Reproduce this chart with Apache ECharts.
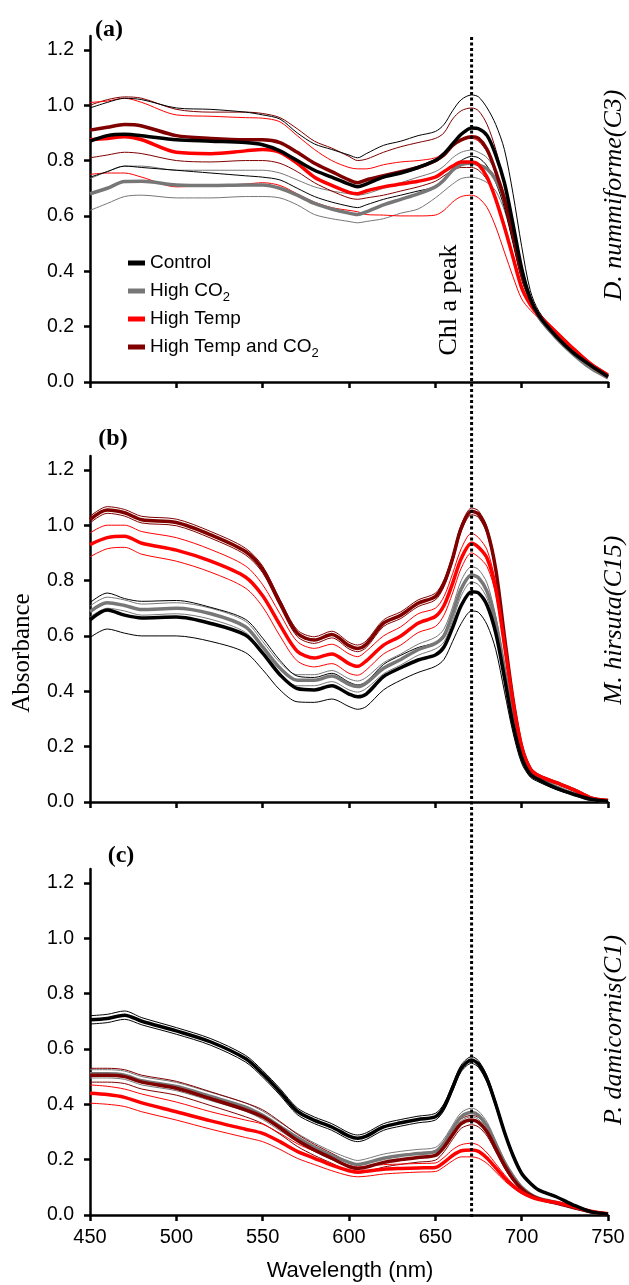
<!DOCTYPE html>
<html><head><meta charset="utf-8">
<script src="https://cdn.jsdelivr.net/npm/echarts@6/dist/echarts.min.js"></script>
<style>html,body{margin:0;padding:0;background:#fff}#c{width:629px;height:1285px}</style>
</head><body><div id="c"></div>
<script>
// ---- data ----
const wavelengths = [450,460,470,480, 500,520,540, 550,560,570,580,590,600, 605,610, 620,630,640,650, 655,660,665, 671,675,680,685,690,695,700,705,710, 720,730,740,750];
const yTicks = [0, 0.2, 0.4, 0.6, 0.8, 1.0, 1.2];
const chlPeak = 671;
const treatments = ['Control', 'High CO2', 'High Temp', 'High Temp and CO2'];
const panelLetters = ['(a)', '(b)', '(c)'];
const speciesNames = ['D. nummiforme(C3)', 'M. hirsuta(C15)', 'P. damicornis(C1)'];

// Panel (a) D. nummiforme : mean (M), upper (H), lower (L)
const aCtrlM = [.87,.89,.895,.89, .875,.87,.865, .857,.835,.80,.765,.74,.715, .705,.715, .74,.755,.775,.80, .825,.86,.895, .918,.915,.89,.82,.72,.57,.41,.30,.24, .165,.105,.06,.02];
const aCtrlH = [.99,1.01,1.025,1.02, .99,.985,.975, .965,.95,.90,.86,.84,.82, .81,.825, .855,.87,.89,.905, .93,.98,1.02, 1.037,1.03,.99,.93,.84,.68,.49,.33,.255, .175,.11,.06,.02];
const aCtrlL = [.74,.76,.78,.775, .765,.755,.745, .74,.73,.70,.67,.65,.635, .63,.64, .66,.675,.69,.705, .73,.77,.80, .815,.81,.78,.72,.63,.50,.37,.29,.23, .16,.10,.055,.02];
const aCo2M = [.68,.70,.724,.725, .712,.71,.712, .712,.70,.675,.645,.625,.61, .605,.615, .64,.66,.68,.705, .73,.765,.785, .79,.785,.77,.73,.66,.54,.40,.30,.235, .16,.10,.05,.015];
const aCo2H = [.735,.76,.78,.78, .765,.765,.765, .765,.755,.73,.705,.69,.68, .675,.68, .70,.72,.74,.76, .78,.81,.83, .838,.83,.81,.76,.68,.55,.41,.305,.24, .16,.10,.05,.015];
const aCo2L = [.62,.645,.67,.675, .665,.665,.67, .67,.665,.64,.605,.59,.58, .575,.58, .59,.61,.625,.665, .69,.715,.735, .74,.735,.72,.69,.62,.51,.38,.29,.225, .155,.095,.05,.015];
const aTempM = [.875,.88,.886,.875, .83,.825,.835, .84,.83,.79,.74,.71,.685, .68,.69, .705,.715,.725,.74, .76,.78,.795, .795,.785,.74,.66,.56,.45,.34,.28,.24, .18,.12,.065,.025];
const aTempH = [1.01,1.015,1.025,1.01, .965,.96,.955, .953,.94,.89,.84,.80,.775, .77,.77, .785,.795,.80,.81, .83,.86,.875, .88,.87,.83,.75,.64,.51,.38,.30,.25, .185,.125,.07,.03];
const aTempL = [.75,.755,.755,.74, .705,.71,.715, .72,.71,.68,.65,.63,.62, .615,.605, .603,.60,.60,.603, .62,.65,.67, .675,.665,.63,.56,.47,.38,.30,.26,.23, .17,.115,.06,.025];
const aBothM = [.91,.92,.93,.925, .89,.88,.875, .875,.865,.83,.79,.76,.73, .72,.73, .745,.76,.775,.80, .82,.855,.875, .886,.88,.84,.76,.66,.53,.39,.30,.24, .17,.11,.06,.02];
const aBothH = [1.0,1.02,1.03,1.025, .985,.975,.975, .97,.955,.915,.87,.845,.815, .80,.805, .83,.85,.865,.88, .90,.95,.98, .99,.98,.93,.84,.72,.57,.41,.31,.245, .175,.115,.06,.02];
const aBothL = [.81,.82,.83,.825, .80,.795,.80, .80,.79,.76,.72,.69,.665, .66,.665, .675,.69,.705,.725, .745,.765,.775, .775,.765,.73,.66,.57,.46,.35,.28,.23, .165,.105,.055,.02];

// Panel (b) M. hirsuta
const bCtrlM = [.658,.694,.675,.665, .668,.645,.603, .538,.46,.41,.405,.42,.39, .38,.39, .453,.485,.513,.531, .56,.63,.71, .76,.755,.71,.61,.45,.28,.16,.10,.08, .05,.028,.01,.003];
const bCtrlH = [.72,.755,.735,.725, .728,.703,.66, .592,.512,.455,.45,.465,.433, .423,.434, .497,.53,.558,.576, .607,.68,.765, .815,.81,.765,.66,.49,.31,.18,.11,.088, .055,.03,.011,.003];
const bCtrlL = [.594,.625,.61,.60, .60,.58,.54, .478,.405,.362,.36,.372,.345, .335,.345, .405,.44,.468,.49, .515,.58,.645, .69,.685,.64,.55,.40,.25,.14,.09,.072, .045,.025,.009,.003];
const bCo2M = [.688,.72,.71,.695, .70,.68,.633, .56,.484,.44,.44,.455,.425, .417,.43, .483,.515,.55,.573, .60,.68,.77, .82,.81,.76,.65,.48,.30,.17,.11,.085, .055,.03,.01,.003];
const bCo2H = [.708,.74,.73,.715, .72,.70,.653, .58,.504,.46,.46,.475,.445, .437,.45, .503,.535,.57,.595, .625,.705,.80, .85,.84,.79,.67,.495,.31,.175,.112,.087, .056,.03,.01,.003];
const bCo2L = [.668,.70,.69,.675, .68,.66,.613, .54,.464,.42,.42,.435,.405, .397,.41, .463,.495,.53,.553, .578,.655,.745, .795,.785,.735,.63,.465,.29,.165,.108,.083, .054,.03,.01,.003];
const bTempM = [.93,.955,.96,.935, .91,.87,.813, .745,.64,.545,.52,.535,.50, .49,.51, .567,.60,.646,.67, .71,.79,.88, .935,.92,.88,.77,.57,.36,.20,.12,.095, .07,.045,.015,.005];
const bTempH = [.972,1.0,1.0,.977, .955,.912,.853, .785,.68,.58,.555,.57,.535, .525,.545, .60,.633,.68,.70, .742,.825,.915, .971,.955,.91,.79,.59,.37,.205,.122,.097, .071,.046,.015,.005];
const bTempL = [.886,.915,.92,.895, .87,.83,.773, .705,.60,.51,.488,.50,.465, .458,.477, .535,.567,.612,.634, .675,.755,.845, .90,.885,.85,.75,.55,.35,.195,.118,.093, .069,.044,.015,.005];
const bBothM = [1.02,1.055,1.045,1.02, 1.01,.965,.905, .84,.72,.61,.585,.605,.565, .555,.57, .646,.675,.718,.742, .79,.88,.99, 1.05,1.04,.98,.84,.60,.37,.20,.12,.095, .07,.045,.015,.005];
const bBothH = [1.032,1.067,1.057,1.032, 1.022,.977,.917, .852,.732,.622,.597,.617,.577, .567,.582, .658,.687,.73,.754, .802,.892,1.002, 1.062,1.052,.992,.852,.61,.375,.203,.122,.096, .071,.046,.015,.005];
const bBothL = [1.008,1.043,1.033,1.008, .998,.953,.893, .828,.708,.598,.573,.593,.553, .543,.558, .634,.663,.706,.73, .778,.868,.978, 1.038,1.028,.968,.828,.59,.365,.197,.118,.094, .069,.044,.015,.005];

// Panel (c) P. damicornis
const cCtrlM = [.705,.71,.722,.70, .665,.625,.565, .51,.445,.375,.342,.318,.285, .277,.285, .318,.333,.345,.355, .39,.46,.53, .56,.545,.49,.40,.30,.215,.15,.115,.09, .066,.036,.012,.003];
const cCtrlH = [.72,.725,.737,.713, .677,.637,.577, .522,.457,.387,.354,.33,.297, .289,.297, .33,.345,.357,.367, .402,.472,.542, .572,.557,.502,.41,.308,.222,.155,.118,.092, .068,.037,.013,.003];
const cCtrlL = [.69,.695,.707,.687, .653,.613,.553, .498,.433,.363,.33,.306,.273, .265,.273, .306,.321,.333,.343, .378,.448,.518, .548,.533,.478,.39,.292,.208,.145,.112,.088, .064,.035,.011,.003];
const cCo2M = [.51,.51,.505,.485, .464,.428,.39, .36,.32,.28,.245,.215,.19, .182,.188, .205,.215,.222,.229, .26,.31,.355, .37,.36,.32,.255,.19,.14,.10,.075,.06, .045,.028,.012,.003];
const cCo2H = [.525,.525,.52,.50, .479,.443,.405, .375,.335,.295,.26,.23,.205, .197,.203, .22,.23,.237,.244, .275,.325,.37, .386,.375,.335,.268,.20,.147,.105,.078,.062, .046,.029,.012,.003];
const cCo2L = [.495,.495,.49,.47, .449,.413,.375, .345,.305,.265,.23,.20,.175, .167,.173, .19,.20,.207,.214, .245,.295,.34, .355,.345,.305,.242,.18,.133,.095,.072,.058, .044,.027,.012,.003];
const cTempM = [.44,.435,.425,.405, .373,.34,.31, .295,.265,.23,.205,.18,.16, .155,.158, .165,.168,.17,.172, .19,.215,.232, .235,.23,.205,.17,.135,.105,.082,.066,.056, .045,.03,.014,.005];
const cTempH = [.47,.465,.455,.437, .408,.373,.343, .328,.295,.258,.23,.203,.18, .174,.176, .182,.184,.186,.188, .208,.236,.254, .259,.252,.224,.185,.146,.112,.087,.069,.058, .046,.031,.014,.005];
const cTempL = [.404,.40,.392,.373, .343,.31,.28, .265,.237,.205,.182,.16,.142, .138,.14, .148,.152,.155,.157, .174,.196,.21, .21,.205,.186,.155,.124,.098,.077,.063,.054, .044,.029,.014,.005];
const cBothM = [.505,.505,.50,.48, .458,.42,.38, .355,.315,.27,.235,.205,.175, .168,.173, .19,.20,.208,.215, .245,.29,.33, .343,.335,.30,.24,.18,.13,.095,.072,.058, .043,.027,.012,.003];
const cBothH = [.53,.53,.525,.505, .483,.445,.405, .38,.338,.292,.255,.223,.192, .185,.19, .207,.217,.225,.232, .262,.307,.347, .36,.352,.315,.252,.19,.137,.10,.075,.06, .044,.028,.012,.003];
const cBothL = [.48,.48,.475,.455, .433,.395,.355, .33,.292,.248,.215,.187,.158, .151,.156, .173,.183,.191,.198, .228,.273,.313, .326,.318,.285,.228,.17,.123,.09,.069,.056, .042,.026,.012,.003];

// ---- build ----
const colors = ['#000000', '#777777', '#ff0000', '#800000'];
const panels = [
  {M: [aCtrlM, aCo2M, aTempM, aBothM], H: [aCtrlH, aCo2H, aTempH, aBothH], L: [aCtrlL, aCo2L, aTempL, aBothL]},
  {M: [bCtrlM, bCo2M, bTempM, bBothM], H: [bCtrlH, bCo2H, bTempH, bBothH], L: [bCtrlL, bCo2L, bTempL, bBothL]},
  {M: [cCtrlM, cCo2M, cTempM, cBothM], H: [cCtrlH, cCo2H, cTempH, cBothH], L: [cCtrlL, cCo2L, cTempL, cBothL]}
];
const SANS = '"Liberation Sans", Arial, sans-serif';
const SERIF = '"Liberation Serif", "Times New Roman", serif';
const gridTops = [36, 456, 869];
const GRID_H = 346, GRID_L = 90, GRID_R = 21;

const grids = gridTops.map(t => ({left: GRID_L, right: GRID_R, top: t, height: GRID_H, outerBoundsMode: 'none', containLabel: false}));
grids.push({left: GRID_L, right: GRID_R, top: 35, bottom: 68, outerBoundsMode: 'none', containLabel: false});

const axisLineStyle = {color: '#000', width: 2.5};
const xAxes = [0, 1, 2].map(i => ({
  gridIndex: i, type: 'value', min: 450, max: 750, interval: 50,
  axisLine: {show: true, onZero: false, lineStyle: axisLineStyle},
  axisTick: {show: true, length: 6, lineStyle: axisLineStyle},
  axisLabel: {show: i === 2, fontSize: 20, fontFamily: SANS, color: '#000', margin: 12},
  splitLine: {show: false}
}));
xAxes.push({gridIndex: 3, type: 'value', min: 450, max: 750, show: false});
const yAxes = [0, 1, 2].map(i => ({
  gridIndex: i, type: 'value', min: 0, max: 1.25,
  axisLine: {show: true, lineStyle: axisLineStyle},
  axisTick: {show: true, length: 6, lineStyle: axisLineStyle, customValues: yTicks},
  axisLabel: {fontSize: 19.5, fontFamily: SANS, color: '#000', margin: 16, customValues: yTicks, formatter: v => Number(v).toFixed(1)},
  splitLine: {show: false}
}));
yAxes.push({gridIndex: 3, type: 'value', min: 0, max: 1, show: false});

const series = [];
const drawOrder = [1, 3, 2, 0];
panels.forEach((p, pi) => {
  drawOrder.forEach((t, k) => {
    const mk = (arr) => wavelengths.map((w, i) => [w, arr[i]]);
    ['H', 'L'].forEach(band => {
      series.push({
        type: 'line', name: treatments[t] + ' ' + band, xAxisIndex: pi, yAxisIndex: pi,
        data: mk(p[band][t]), showSymbol: false, symbol: 'none', smooth: 0.3,
        lineStyle: {color: colors[t], width: 1}, z: 2 + k, silent: true
      });
    });
    series.push({
      type: 'line', name: treatments[t], xAxisIndex: pi, yAxisIndex: pi,
      data: mk(p.M[t]), showSymbol: false, symbol: 'none', smooth: 0.3,
      itemStyle: {color: colors[t]},
      lineStyle: {color: colors[t], width: 3.5, join: 'round'}, z: 6 + k, silent: true
    });
  });
});
series.push({
  type: 'line', name: 'peak', xAxisIndex: 3, yAxisIndex: 3,
  data: [[chlPeak, 0], [chlPeak, 1]], showSymbol: false, symbol: 'none',
  lineStyle: {color: '#000', width: 3, type: [3, 2.5], cap: 'butt'}, z: 20, silent: true
});

const graphic = [];
const letterPos = [[109, 30], [113, 439], [121, 856]];
panelLetters.forEach((s, i) => graphic.push({type: 'text', x: letterPos[i][0], y: letterPos[i][1],
  style: {text: s, fontFamily: SERIF, fontSize: 24, fontWeight: 'bold', fill: '#000', align: 'center', verticalAlign: 'middle'}}));
const speciesY = [195, 620, 1030];
speciesNames.forEach((s, i) => graphic.push({type: 'text', x: 614, y: speciesY[i], rotation: Math.PI / 2,
  style: {text: s, fontFamily: SERIF, fontSize: 26, fontStyle: 'italic', fill: '#000', align: 'center', verticalAlign: 'middle'}}));
graphic.push({type: 'text', x: 449, y: 300, rotation: Math.PI / 2,
  style: {text: 'Chl a peak', fontFamily: SERIF, fontSize: 26, fill: '#000', align: 'center', verticalAlign: 'middle'}});
graphic.push({type: 'text', x: 22, y: 653, rotation: Math.PI / 2,
  style: {text: 'Absorbance', fontFamily: SERIF, fontSize: 25, fill: '#000', align: 'center', verticalAlign: 'middle'}});
graphic.push({type: 'text', x: 350, y: 1271,
  style: {text: 'Wavelength (nm)', fontFamily: SANS, fontSize: 22, fill: '#000', align: 'center', verticalAlign: 'middle'}});

const chart = echarts.init(document.getElementById('c'), null, {renderer: 'canvas'});
chart.setOption({
  backgroundColor: '#fff',
  animation: false,
  grid: grids, xAxis: xAxes, yAxis: yAxes, series: series, graphic: graphic,
  legend: {
    data: treatments, orient: 'vertical', left: 128, top: 253, itemWidth: 17, itemHeight: 5,
    itemGap: 5, icon: 'rect', selectedMode: false, padding: 0,
    formatter: n => n.replace('CO2', 'CO{sub|2}'),
    textStyle: {fontSize: 19, fontFamily: SANS, color: '#000', lineHeight: 20,
      rich: {sub: {fontSize: 13, fontFamily: SANS, color: '#000', lineHeight: 13, padding: [13, 0, 0, 0]}}}
  }
});
</script></body></html>
